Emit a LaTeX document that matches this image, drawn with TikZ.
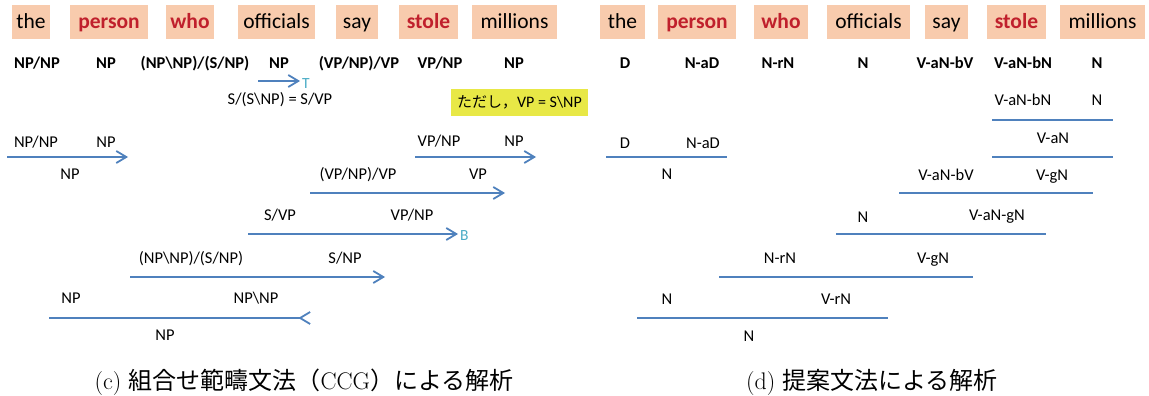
\documentclass[tikz,border=0pt]{standalone}
\usepackage{fontspec}
\newfontfamily\calfont{Carlito}
\newfontfamily\cjk{Noto Sans CJK JP}
\usetikzlibrary{arrows.meta}
\definecolor{peach}{RGB}{248,203,173}
\definecolor{wred}{RGB}{192,32,44}
\definecolor{ablue}{RGB}{79,129,189}
\definecolor{tcyan}{RGB}{75,172,198}
\definecolor{yel}{RGB}{232,232,70}
\tikzset{
  word/.style={fill=peach, minimum height=34pt, inner sep=0pt, text height=16pt, text depth=3pt,
    font=\calfont\fontsize{21.5}{24}\selectfont},
  hl/.style={text=wred, font=\calfont\bfseries\fontsize{21.5}{24}\selectfont},
  cat/.style={inner sep=0pt, text height=11.5pt, text depth=3.5pt, font=\calfont\bfseries\fontsize{16.5}{19}\selectfont},
  lab/.style={inner sep=0pt, text height=11.5pt, text depth=3.5pt, font=\calfont\fontsize{16.5}{19}\selectfont},
  rulel/.style={draw=ablue, line width=1.8pt},
  fwd/.style={rulel, -{Straight Barb[length=10pt,width=12pt]}},
  bwd/.style={rulel, -{Straight Barb[length=10pt,width=12pt,reversed]}},
  combo/.style={inner sep=0pt, text=tcyan, anchor=west, font=\calfont\fontsize{15.5}{18}\selectfont},
  capt/.style={inner sep=0pt, anchor=base, font=\fontsize{24}{28}\selectfont},
}
\begin{document}
\begin{tikzpicture}[x=1pt,y=-1pt]
\useasboundingbox (0,0) rectangle (1149,396);
% ---------- left panel: words ----------
\node[word, minimum width=38pt] (w1) at (31,22) {the};
\node[word, hl, minimum width=78pt] (w2) at (109,22) {person};
\node[word, hl, minimum width=48pt] (w3) at (190,22) {who};
\node[word, minimum width=77pt] (w4) at (276.5,22) {officials};
\node[word, minimum width=42pt] (w5) at (357,22) {say};
\node[word, hl, minimum width=59pt] (w6) at (428.5,22) {stole};
\node[word, minimum width=85pt] (w7) at (514.5,22) {millions};
% categories
\node[cat] (c1) at (37,65) {NP/NP};
\node[cat] (c2) at (106,65) {NP};
\node[cat] (c3) at (195,65) {(NP\textbackslash NP)/(S/NP)};
\node[cat] (c4) at (279,65) {NP};
\node[cat] (c5) at (359,65) {(VP/NP)/VP};
\node[cat] (c6) at (440,65) {VP/NP};
\node[cat] (c7) at (514,65) {NP};
% type raising
\coordinate (ts) at (258,81);
\coordinate (te) at (300,81);
\draw[fwd] (ts) -- (te);
\node[combo] (tl) at (302,83.5) {T};
\node[lab] (tr) at (280,100.5) {S/(S\textbackslash NP) = S/VP};
\node[fill=yel, minimum width=137pt, minimum height=27pt, inner sep=0pt, font=\calfont\fontsize{16}{19}\selectfont] (note) at (519.5,102.5)
  {{\cjk\fontsize{15}{18}\selectfont ただし，}VP = S\textbackslash NP};
% row A
\node[lab] (a1) at (36,143) {NP/NP};
\node[lab] (a2) at (106,143) {NP};
\coordinate (as) at (7,157); \coordinate (ae) at (128,157);
\draw[fwd] (as) -- (ae);
\node[lab] (ar) at (70,175) {NP};
\node[lab] (b1) at (439,142) {VP/NP};
\node[lab] (b2) at (514,142) {NP};
\coordinate (bs) at (415,157); \coordinate (be) at (536,157);
\draw[fwd] (bs) -- (be);
% row B
\node[lab] (d1) at (358,175) {(VP/NP)/VP};
\node[lab] (d2) at (478,175) {VP};
\coordinate (ds) at (310,193); \coordinate (de) at (505,193);
\draw[fwd] (ds) -- (de);
% row C
\node[lab] (e1) at (280,216) {S/VP};
\node[lab] (e2) at (412,216) {VP/NP};
\coordinate (es) at (248,234); \coordinate (ee) at (458,234);
\draw[fwd] (es) -- (ee);
\node[combo] (eb) at (460,236) {B};
% row D
\node[lab] (f1) at (191,259) {(NP\textbackslash NP)/(S/NP)};
\node[lab] (f2) at (345,259) {S/NP};
\coordinate (fs) at (130,277); \coordinate (fe) at (385,277);
\draw[fwd] (fs) -- (fe);
% row E
\node[lab] (g1) at (71,299) {NP};
\node[lab] (g2) at (256,299) {NP\textbackslash NP};
\coordinate (gs) at (49,318); \coordinate (ge) at (311,318);
\draw[bwd] (gs) -- (ge);
\node[lab] (gr) at (165,336) {NP};
% ---------- right panel: words ----------
\node[word, minimum width=45pt] (v1) at (622.5,22) {the};
\node[word, hl, minimum width=78pt] (v2) at (697,22) {person};
\node[word, hl, minimum width=54pt] (v3) at (781,22) {who};
\node[word, minimum width=83pt] (v4) at (868.5,22) {officials};
\node[word, minimum width=43pt] (v5) at (946.5,22) {say};
\node[word, hl, minimum width=59pt] (v6) at (1016.5,22) {stole};
\node[word, minimum width=85pt] (v7) at (1102.5,22) {millions};
% categories
\node[cat] (k1) at (625,65) {D};
\node[cat] (k2) at (702,65) {N-aD};
\node[cat] (k3) at (778,65) {N-rN};
\node[cat] (k4) at (863,65) {N};
\node[cat] (k5) at (945,65) {V-aN-bV};
\node[cat] (k6) at (1023,65) {V-aN-bN};
\node[cat] (k7) at (1097,65) {N};
% row 1
\node[lab] (p1) at (1023,102) {V-aN-bN};
\node[lab] (p2) at (1097,102) {N};
\coordinate (ps) at (992,120); \coordinate (pe) at (1113,120);
\draw[rulel] (ps) -- (pe);
% row 2
\node[lab] (q1) at (1053,139) {V-aN};
\coordinate (qs) at (992,157); \coordinate (qe) at (1113,157);
\draw[rulel] (qs) -- (qe);
\node[lab] (r1) at (625,144) {D};
\node[lab] (r2) at (703,144) {N-aD};
\coordinate (rs) at (606,157); \coordinate (re) at (727,157);
\draw[rulel] (rs) -- (re);
\node[lab] (rr) at (667,175) {N};
% row 3
\node[lab] (s1) at (946,176) {V-aN-bV};
\node[lab] (s2) at (1052,176) {V-gN};
\coordinate (ss) at (899,193); \coordinate (se) at (1093,193);
\draw[rulel] (ss) -- (se);
% row 4
\node[lab] (u1) at (863,218) {N};
\node[lab] (u2) at (997,216) {V-aN-gN};
\coordinate (us) at (836,234); \coordinate (ue) at (1046,234);
\draw[rulel] (us) -- (ue);
% row 5
\node[lab] (x1) at (780,259) {N-rN};
\node[lab] (x2) at (933,259) {V-gN};
\coordinate (xs) at (719,277); \coordinate (xe) at (973,277);
\draw[rulel] (xs) -- (xe);
% row 6
\node[lab] (y1) at (667,300) {N};
\node[lab] (y2) at (836,300) {V-rN};
\coordinate (ys) at (637,318); \coordinate (ye) at (888,318);
\draw[rulel] (ys) -- (ye);
\node[lab] (yr) at (749,337) {N};
% ---------- captions ----------
\node[capt] (capc) at (304,389) {(c) {\cjk 組合せ範疇文法（}CCG{\cjk ）による解析}};
\node[capt] (capd) at (872,389) {(d) {\cjk 提案文法による解析}};
\end{tikzpicture}
\end{document}
